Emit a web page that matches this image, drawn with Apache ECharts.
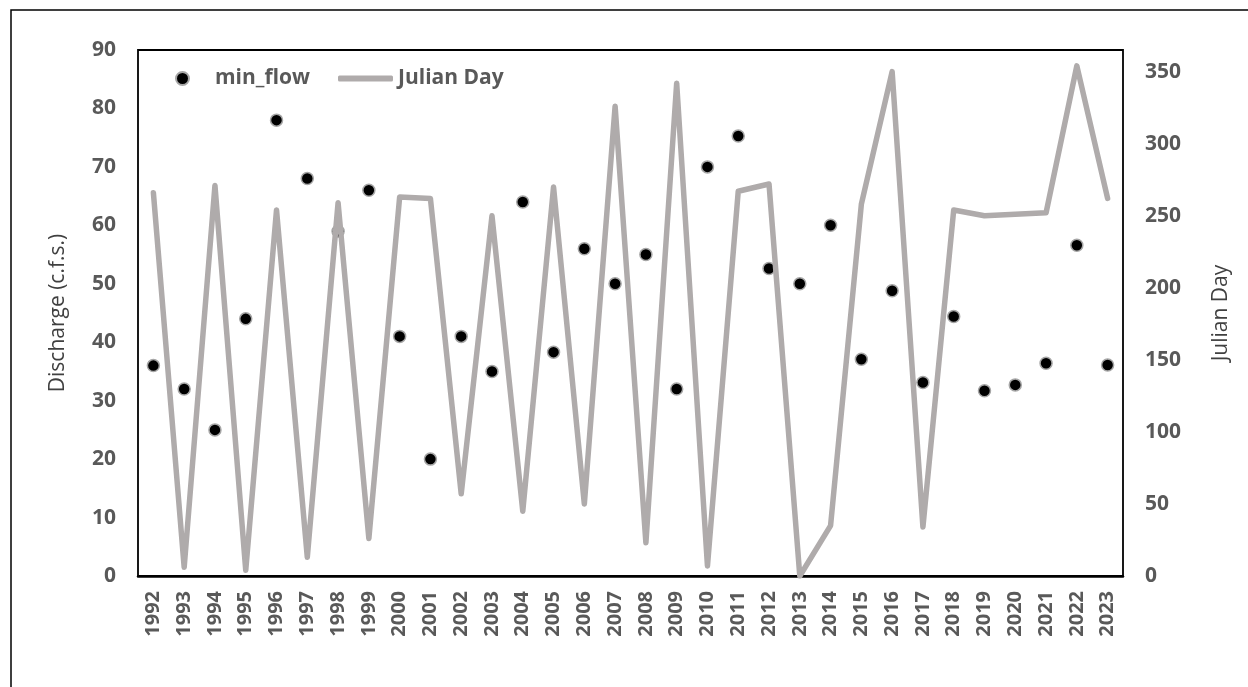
<!DOCTYPE html>
<html>
<head>
<meta charset="utf-8">
<script src="https://cdn.jsdelivr.net/npm/echarts@6/dist/echarts.min.js"></script>
<style>
html,body{margin:0;padding:0;background:#fff;}
#chart{width:1248px;height:687px;}
</style>
</head>
<body>
<div id="chart"></div>
<script>
const years = ['1992','1993','1994','1995','1996','1997','1998','1999','2000','2001','2002','2003','2004','2005','2006','2007','2008','2009','2010','2011','2012','2013','2014','2015','2016','2017','2018','2019','2020','2021','2022','2023'];
const minFlow = [36,32,25,44,78,68,59,66,41,20,41,35,64,38.3,56,50,55,32,70,75.3,52.6,50,60,37.1,48.8,33.1,44.4,31.7,32.7,36.4,56.6,36.1];
const julianDay = [266,6,271,4,254,13,259,26,263,262,57,250,45,270,50,326,23,342,7,267,272,0,35,258,350,34,254,250,251,252,354,262];
const leftTicks = {min:0, max:90, interval:10};
const rightTicks = {min:0, max:365, interval:50};

const FONT = '"Open Sans", "Noto Sans", sans-serif';
const TXT = '#595959';
const legendText = {fontFamily:FONT, fontWeight:'bold', fontSize:21, color:TXT};
const chart = echarts.init(document.getElementById('chart'), null, {renderer:'canvas'});
chart.setOption({
  animation:false,
  backgroundColor:'#fff',
  textStyle:{fontFamily:FONT},
  graphic:[{type:'rect', shape:{x:11,y:10,width:1400,height:1000}, style:{fill:'none', stroke:'#000', lineWidth:1.5}, z:-1}],
  legend:[{
    left:170, top:63, itemWidth:55, itemHeight:13,
    textStyle:legendText,
    data:['min_flow']
  },{
    left:333, top:63, itemWidth:55, itemHeight:6, itemGap:0,
    textStyle:legendText,
    data:[{name:'Julian Day', icon:'roundRect'}]
  }],
  grid:{left:138, top:50, right:125, bottom:111, show:true, borderColor:'#000', borderWidth:1.8, containLabel:false},
  xAxis:{
    type:'category', data:years, boundaryGap:true,
    axisLine:{lineStyle:{color:'#000', width:2.5}},
    axisTick:{show:false},
    axisLabel:{rotate:90, margin:15, fontFamily:FONT, fontWeight:'bold', fontSize:20, color:TXT, interval:0},
    splitLine:{show:false}
  },
  yAxis:[{
    type:'value', min:leftTicks.min, max:leftTicks.max, interval:leftTicks.interval,
    name:'Discharge (c.f.s.)', nameLocation:'middle', nameGap:69, nameRotate:90,
    nameTextStyle:{fontFamily:FONT, fontSize:21, color:'#404040'},
    axisLine:{show:false}, axisTick:{show:false}, splitLine:{show:false},
    axisLabel:{margin:22, fontFamily:FONT, fontWeight:'bold', fontSize:21, color:TXT}
  },{
    type:'value', min:rightTicks.min, max:rightTicks.max, interval:rightTicks.interval, position:'right',
    name:'Julian Day', nameLocation:'middle', nameGap:88, nameRotate:90,
    nameTextStyle:{fontFamily:FONT, fontSize:21, color:'#404040'},
    axisLine:{show:false}, axisTick:{show:false}, splitLine:{show:false},
    axisLabel:{margin:22, fontFamily:FONT, fontWeight:'bold', fontSize:21, color:TXT,
      formatter:function(v){return (v % 50 === 0) ? String(v) : '';}}
  }],
  series:[{
    name:'min_flow', type:'scatter', yAxisIndex:0, data:minFlow,
    symbol:'circle', symbolSize:12,
    itemStyle:{color:'#000', borderColor:'#A6A6A6', borderWidth:1.5, opacity:1}
  },{
    name:'Julian Day', type:'line', yAxisIndex:1, data:julianDay,
    showSymbol:false, symbol:'none',
    lineStyle:{color:'#AFABAB', width:5.5, cap:'round', join:'round'},
    itemStyle:{color:'#AFABAB'}
  }]
});
</script>
</body>
</html>
